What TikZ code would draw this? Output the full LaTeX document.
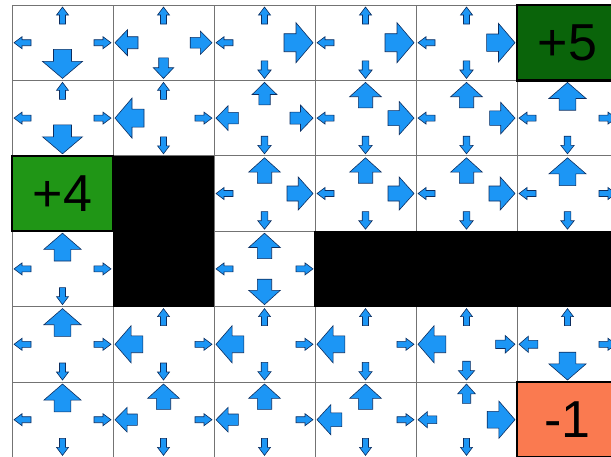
\documentclass[tikz,border=0pt]{standalone}
\usepackage{fontspec}
\setmainfont{Liberation Sans}
\usetikzlibrary{calc}

\definecolor{arrowblue}{RGB}{28,150,245}
\definecolor{arrowedge}{RGB}{12,45,95}
\definecolor{goaldark}{RGB}{10,100,10}
\definecolor{goallight}{RGB}{32,150,22}
\definecolor{penalty}{RGB}{250,122,80}

% one block arrow: tip x, tip y, angle, size (0..1)
\newcommand{\polarrow}[4]{%
  \pgfmathsetmacro{\alen}{17+12*#4}%
  \pgfmathsetmacro{\hlen}{8+9*#4}%
  \pgfmathsetmacro{\hwid}{6+14*#4}%
  \pgfmathsetmacro{\swid}{3+6*#4}%
  \begin{scope}[shift={(#1,#2)}, rotate=#3]
    \filldraw[policy] (0,0) -- (-\hlen,\hwid) -- (-\hlen,\swid) -- (-\alen,\swid)
      -- (-\alen,-\swid) -- (-\hlen,-\swid) -- (-\hlen,-\hwid) -- cycle;
  \end{scope}}

% four arrows of one cell: col, row, up, down, left, right
\newcommand{\cellarrows}[6]{%
  \pgfmathsetmacro{\cxl}{12+101*#1}%
  \pgfmathsetmacro{\cyt}{5+75.4*#2}%
  \pgfmathsetmacro{\cxm}{\cxl+50.5}%
  \pgfmathsetmacro{\cym}{\cyt+37.7}%
  \polarrow{\cxm}{\cyt+2}{90}{#3}%
  \polarrow{\cxm}{\cyt+73.4}{-90}{#4}%
  \polarrow{\cxl+2}{\cym}{180}{#5}%
  \polarrow{\cxl+99}{\cym}{0}{#6}}

\begin{document}
\begin{tikzpicture}[x=1pt, y=-1pt,
    gridline/.style={draw=black!55, line width=0.9pt},
    wall/.style={fill=black},
    policy/.style={fill=arrowblue, draw=arrowedge, line width=0.6pt, line join=miter},
    terminal/.style={draw=black, line width=2.4pt, minimum width=101pt, minimum height=75.4pt,
      inner sep=0pt, font=\fontsize{52}{52}\selectfont}]
  \useasboundingbox (0,0) rectangle (611,456);
  \clip (0,0) rectangle (611,456);

  \foreach \i in {0,...,6}
    \draw[gridline] (12+101*\i,5) -- (12+101*\i,457.4);
  \foreach \j in {0,...,6}
    \draw[gridline] (12,5+75.4*\j) -- (618,5+75.4*\j);

  \fill[wall] (113,155.8) rectangle (214,306.6);
  \fill[wall] (314,231.2) rectangle (618,306.6);

  \node[terminal, fill=goaldark] (plusfive) at (567.5,42.7) {+5};
  \node[terminal, fill=goallight] (plusfour) at (62.5,193.5) {+4};
  \node[terminal, fill=penalty] (minusone) at (567.5,419.7) {-1};

  \foreach \c/\r/\u/\d/\l/\g in {
      0/0/0/1/0/0, 1/0/0/0.3/0.5/0.4, 2/0/0/0.05/0/1, 3/0/0/0.05/0/1, 4/0/0/0.05/0/0.95,
      0/1/0/1/0/0, 1/1/0/0/1/0, 2/1/0.45/0.05/0.45/0.5, 3/1/0.7/0.05/0/0.75,
      4/1/0.7/0.05/0/0.7, 5/1/0.9/0.05/0/0,
      2/2/0.7/0.05/0/0.75, 3/2/0.7/0.05/0/0.75, 4/2/0.7/0.05/0/0.75, 5/2/0.9/0.05/0/0,
      0/3/0.9/0/0/0, 2/3/0.7/0.7/0/0,
      0/4/0.9/0/0/0, 1/4/0/0/0.9/0, 2/4/0/0.05/0.9/0, 3/4/0/0.05/0.9/0,
      4/4/0/0.15/0.9/0.2, 5/4/0/0.9/0.15/0,
      0/5/0.9/0/0/0, 1/5/0.7/0/0.45/0, 2/5/0.7/0/0.45/0, 3/5/0.7/0/0.65/0,
      4/5/0.2/0/0.15/0.9}
    \cellarrows{\c}{\r}{\u}{\d}{\l}{\g};
\end{tikzpicture}
\end{document}
